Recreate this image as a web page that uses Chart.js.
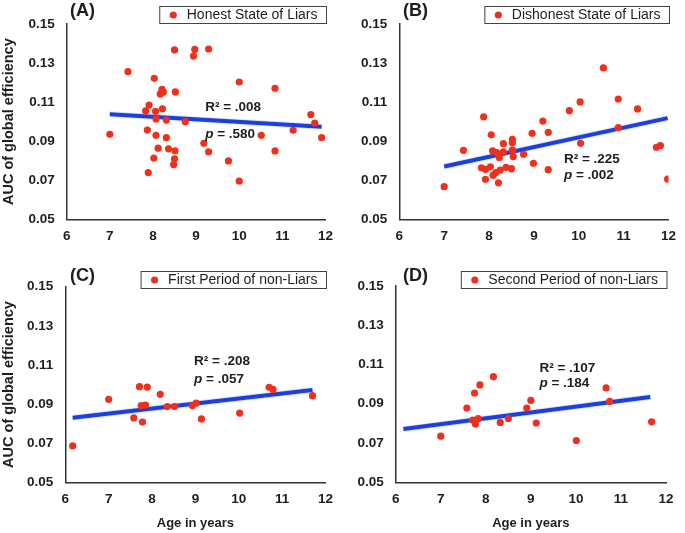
<!DOCTYPE html>
<html>
<head>
<meta charset="utf-8">
<script src="https://cdn.jsdelivr.net/npm/chart.js@4.4.1/dist/chart.umd.min.js"></script>
<style>
  body { margin: 0; background: #fff; width: 685px; height: 533px; position: relative; overflow: hidden; }
  .panel { position: absolute; }
</style>
</head>
<body>
<div class="panel" style="left:0;top:0;width:342px;height:265px"><canvas id="chartA"></canvas></div>
<div class="panel" style="left:342px;top:0;width:343px;height:265px"><canvas id="chartB"></canvas></div>
<div class="panel" style="left:0;top:265px;width:342px;height:268px"><canvas id="chartC"></canvas></div>
<div class="panel" style="left:342px;top:265px;width:343px;height:268px"><canvas id="chartD"></canvas></div>
<script>
// values
const ageA = [7.00, 7.42, 8.50, 8.97, 9.29, 8.94, 8.03, 10.00, 10.83, 8.21, 8.17, 8.24, 8.52, 7.91, 7.83, 8.06, 8.22, 8.07, 8.31, 8.75,
              7.87, 8.07, 8.31, 8.12, 8.36, 8.51, 8.50, 8.48, 8.02, 7.89, 9.18, 9.29, 9.75, 10.00, 10.51, 10.83, 11.25, 11.66, 11.75, 11.91];
const aucA = [0.0935, 0.1256, 0.1367, 0.1370, 0.1372, 0.1336, 0.1222, 0.1203, 0.1171, 0.1166, 0.1142, 0.1152, 0.1152, 0.1085, 0.1055, 0.1053, 0.1066, 0.1014, 0.1008, 0.1000,
              0.0957, 0.0930, 0.0918, 0.0864, 0.0861, 0.0851, 0.0810, 0.0780, 0.0814, 0.0739, 0.0889, 0.0846, 0.0799, 0.0696, 0.0930, 0.0850, 0.0956, 0.1036, 0.0993, 0.0918];

const ageB = [7.00, 7.43, 7.88, 8.05, 8.08, 8.17, 8.23, 8.32, 8.32, 8.52, 8.52, 8.52, 8.54, 8.77, 7.83, 7.92, 8.03, 7.92, 8.09, 8.15,
              8.21, 8.25, 8.38, 8.50, 8.96, 8.99, 9.20, 9.32, 9.32, 9.79, 10.03, 10.04, 10.55, 10.88, 10.88, 11.31, 11.73, 11.82, 11.98];
const aucB = [0.0667, 0.0853, 0.1025, 0.0933, 0.0850, 0.0841, 0.0817, 0.0887, 0.0845, 0.0910, 0.0892, 0.0855, 0.0821, 0.0833, 0.0764, 0.0756, 0.0769, 0.0705, 0.0725, 0.0739,
              0.0687, 0.0752, 0.0766, 0.0759, 0.0940, 0.0787, 0.1003, 0.0945, 0.0754, 0.1056, 0.1101, 0.0889, 0.1275, 0.1116, 0.0969, 0.1065, 0.0869, 0.0877, 0.0706];

const ageC = [6.17, 7.00, 7.58, 7.71, 7.89, 7.75, 7.85, 7.78, 8.19, 8.35, 8.52, 8.93, 9.02, 9.14, 10.02, 10.70, 10.79, 11.70];
const aucC = [0.0686, 0.0924, 0.0829, 0.0989, 0.0987, 0.0892, 0.0895, 0.0808, 0.0950, 0.0887, 0.0887, 0.0892, 0.0905, 0.0824, 0.0854, 0.0986, 0.0975, 0.0943];

const ageD = [7.00, 7.58, 7.75, 7.87, 8.17, 7.71, 7.77, 7.83, 8.32, 8.50, 8.91, 9.00, 9.12, 10.01, 10.67, 10.75, 11.68];
const aucD = [0.0735, 0.0878, 0.0955, 0.0996, 0.1038, 0.0817, 0.0797, 0.0824, 0.0805, 0.0825, 0.0878, 0.0917, 0.0802, 0.0713, 0.0981, 0.0912, 0.0808];

// regression line end points
const fitAgeA = [7.00, 11.91], fitAucA = [0.1038, 0.0974];
const fitAgeB = [7.00, 11.98], fitAucB = [0.0770, 0.1018];
const fitAgeC = [6.17, 11.70], fitAucC = [0.0830, 0.0972];
const fitAgeD = [6.17, 11.65], fitAucD = [0.0771, 0.0935];

const seriesNames = ['Honest State of Liars', 'Dishonest State of Liars', 'First Period of non-Liars', 'Second Period of non-Liars'];
const panelTags = ['(A)', '(B)', '(C)', '(D)'];
const r2Values = ['.008', '.225', '.208', '.107'];
const pValues = ['.580', '.002', '.057', '.184'];
const xTicks = [6, 7, 8, 9, 10, 11, 12];
const yTicks = [0.05, 0.07, 0.09, 0.11, 0.13, 0.15];

const FONT = "'Liberation Sans', Arial, Helvetica, sans-serif";
const RED = '#f0301c';
const BLUE = '#1d3fdc';
const INK = '#1e1e1e';

Chart.defaults.font.family = FONT;

const panels = [
  { id: 'chartA', w: 342, h: 265, area: { left: 66.7, right: 331.3, top: 24, bottom: 219.3 }, yTitle: true,  xTitle: false, tagX: 70,
    age: ageA, auc: aucA, fitAge: fitAgeA, fitAuc: fitAucA, statAt: [9.21, 0.1073, 0.0935] },
  { id: 'chartB', w: 343, h: 265, area: { left: 57.3, right: 331, top: 24, bottom: 219.3 }, yTitle: false, xTitle: false, tagX: 61,
    age: ageB, auc: aucB, fitAge: fitAgeB, fitAuc: fitAucB, statAt: [9.67, 0.0807, 0.0727] },
  { id: 'chartC', w: 342, h: 268, area: { left: 65.3, right: 331.3, top: 21.7, bottom: 217.3 }, yTitle: true,  xTitle: true, tagX: 70,
    age: ageC, auc: aucC, fitAge: fitAgeC, fitAuc: fitAucC, statAt: [8.97, 0.1120, 0.1027] },
  { id: 'chartD', w: 343, h: 268, area: { left: 53.7, right: 324, top: 21, bottom: 217.3 }, yTitle: false, xTitle: true, tagX: 61,
    age: ageD, auc: aucD, fitAge: fitAgeD, fitAuc: fitAucD, statAt: [9.19, 0.1083, 0.1006] }
];

function toPoints(xs, ys) {
  return xs.map((x, i) => ({ x: x, y: ys[i] }));
}

// legend box, panel tag and R²/p labels
function panelText(p, idx) {
  return {
    id: 'panelText',
    afterDraw(chart) {
      const ctx = chart.ctx;
      const area = chart.chartArea;
      const sx = chart.scales.x, sy = chart.scales.y;
      ctx.save();

      // tag
      ctx.fillStyle = INK;
      ctx.font = 'bold 18px ' + FONT;
      ctx.textAlign = 'left';
      ctx.textBaseline = 'middle';
      ctx.fillText(panelTags[idx], p.tagX, 11);

      // legend box
      ctx.font = '14px ' + FONT;
      const tw = ctx.measureText(seriesNames[idx]).width;
      const bw = tw + 36, bh = 17;
      const bx = area.right + 0.5 - bw, by = 6;
      ctx.strokeStyle = '#444';
      ctx.lineWidth = 1;
      ctx.strokeRect(bx + 0.5, by + 0.5, bw, bh);
      ctx.fillStyle = RED;
      ctx.beginPath();
      ctx.arc(bx + 14, by + bh / 2 + 0.5, 3.6, 0, Math.PI * 2);
      ctx.fill();
      ctx.fillStyle = INK;
      ctx.fillText(seriesNames[idx], bx + 27.5, by + bh / 2 + 1);

      // stats
      const x0 = sx.getPixelForValue(p.statAt[0]);
      ctx.font = 'bold 13.5px ' + FONT;
      ctx.fillText('R\u00B2 = ' + r2Values[idx], x0, sy.getPixelForValue(p.statAt[1]));
      const py = sy.getPixelForValue(p.statAt[2]);
      ctx.font = 'italic bold 13.5px ' + FONT;
      ctx.fillText('p', x0, py);
      const pw = ctx.measureText('p').width;
      ctx.font = 'bold 13.5px ' + FONT;
      ctx.fillText(' = ' + pValues[idx], x0 + pw, py);

      ctx.restore();
    }
  };
}

panels.forEach((p, idx) => {
  const tickFont = { family: FONT, size: 13.5, weight: 'bold' };
  new Chart(document.getElementById(p.id), {
    type: 'scatter',
    data: {
      datasets: [
        {
          data: toPoints(p.age, p.auc),
          backgroundColor: RED,
          borderWidth: 0,
          pointRadius: 3.6,
          pointHoverRadius: 3.6
        },
        {
          data: toPoints(p.fitAge, p.fitAuc),
          showLine: true,
          borderColor: BLUE,
          borderWidth: 4,
          pointRadius: 0
        },
        {
          // soft halo around the fit line
          data: toPoints(p.fitAge, p.fitAuc),
          showLine: true,
          borderColor: 'rgba(70, 100, 235, 0.18)',
          borderWidth: 6,
          pointRadius: 0
        }
      ]
    },
    options: {
      responsive: true,
      maintainAspectRatio: false,
      animation: false,
      layout: { padding: { top: p.area.top, right: p.w - p.area.right, bottom: 0, left: 0 } },
      plugins: { legend: { display: false }, tooltip: { enabled: false } },
      scales: {
        x: {
          type: 'linear',
          min: xTicks[0],
          max: xTicks[xTicks.length - 1],
          afterFit: s => { s.height = p.h - p.area.bottom; },
          afterBuildTicks: s => { s.ticks = xTicks.map(v => ({ value: v })); },
          ticks: { padding: 9, color: INK, font: tickFont },
          grid: { display: false, drawTicks: false },
          border: { display: true, color: '#333', width: 1.5 },
          title: {
            display: p.xTitle,
            text: 'Age in years',
            color: INK,
            font: { family: FONT, size: 13, weight: 'bold' },
            padding: { top: 0, bottom: 2.2 }
          }
        },
        y: {
          min: yTicks[0],
          max: yTicks[yTicks.length - 1],
          afterFit: s => { s.width = p.area.left; },
          afterBuildTicks: s => { s.ticks = yTicks.map(v => ({ value: v })); },
          ticks: { padding: 12, color: INK, font: tickFont, callback: v => v.toFixed(2) },
          grid: { display: false, drawTicks: false },
          border: { display: true, color: '#333', width: 1.5 },
          title: {
            display: p.yTitle,
            text: 'AUC of global efficiency',
            color: INK,
            font: { family: FONT, size: 14.5, weight: 'bold' },
            padding: { top: 0.5, bottom: 0 }
          }
        }
      }
    },
    plugins: [panelText(p, idx)]
  });
});
</script>
</body>
</html>
